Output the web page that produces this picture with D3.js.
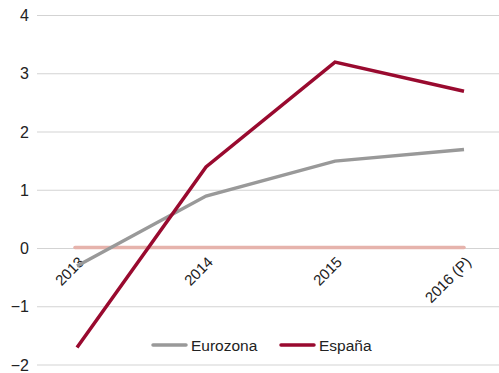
<!DOCTYPE html>
<html><head><meta charset="utf-8">
<script src="https://cdn.jsdelivr.net/npm/d3@7"></script>
<style>body{margin:0;background:#fff}svg{display:block;font-family:"Liberation Sans",Arial,sans-serif}</style>
</head><body><svg id="c" width="499" height="373"></svg>
<script>
const categories = ["2013","2014","2015","2016 (P)"];
const eurozona = [-0.3, 0.9, 1.5, 1.7];
const espana = [-1.7, 1.4, 3.2, 2.7];
const yTicks = [-2,-1,0,1,2,3,4];
const seriesNames = ["Eurozona","España"];
const colors = ["#999999","#990a2f"];

const svg = d3.select("#c");
const x = d3.scalePoint().domain(categories).range([77,464]);
const y = d3.scaleLinear().domain([-2,4]).range([365,15.5]);

// grid
svg.append("g").selectAll("line").data(yTicks).join("line")
  .attr("x1",37).attr("x2",499).attr("y1",d=>y(d)).attr("y2",d=>y(d))
  .attr("stroke","#d3d3d3").attr("stroke-width",1.2);

// y labels
const yAxis = d3.axisLeft(y).tickValues(yTicks).tickSize(0).tickPadding(0)
  .tickFormat(d=> d<0 ? "\u2212"+Math.abs(d) : d);
const ya = svg.append("g").attr("transform","translate(29,0)").call(yAxis);
ya.select(".domain").remove();
ya.selectAll("text").attr("font-size",16).attr("fill","#222").attr("font-family","Liberation Sans, Arial, sans-serif");

// zero line
svg.append("line").attr("x1",x(categories[0])-2).attr("x2",x(categories[3])).attr("y1",y(0)-1).attr("y2",y(0)-1)
  .attr("stroke","#e6b3ac").attr("stroke-width",3.5).attr("stroke-linecap","round");

// x labels
svg.append("g").selectAll("text").data(categories).join("text")
  .attr("transform",d=>`translate(${x(d)+8},${263}) rotate(-45)`)
  .attr("text-anchor","end").attr("font-size",15).attr("fill","#222")
  .text(d=>d);

// lines
const line = d3.line().x((d,i)=>x(categories[i])).y(d=>y(d));
[eurozona, espana].forEach((s,k)=>{
  svg.append("path").datum(s).attr("d",line).attr("fill","none")
    .attr("stroke",colors[k]).attr("stroke-width",3.5).attr("stroke-linejoin","miter");
});

// legend
const lx = [153, 281];
seriesNames.forEach((n,k)=>{
  svg.append("line").attr("x1",lx[k]).attr("x2",lx[k]+33).attr("y1",345).attr("y2",345)
    .attr("stroke",colors[k]).attr("stroke-width",3.5).attr("stroke-linecap","round");
  svg.append("text").attr("x",lx[k]+38).attr("y",350.5).attr("font-size",15.5).attr("fill","#222").text(n);
});
</script></body></html>
